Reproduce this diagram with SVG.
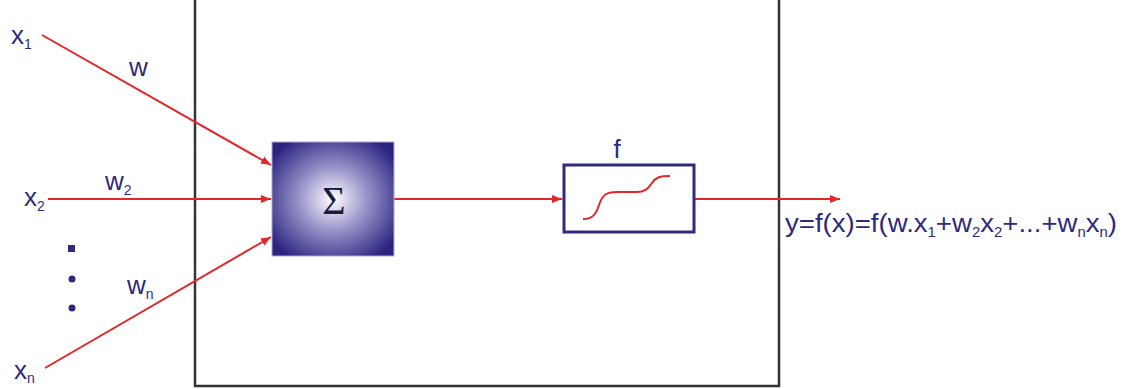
<svg xmlns="http://www.w3.org/2000/svg" width="1125" height="389" viewBox="0 0 1125 389">
<defs>
<radialGradient id="g" cx="0.5" cy="0.5" r="0.62">
<stop offset="0" stop-color="#ffffff"/>
<stop offset="0.45" stop-color="#9893c9"/>
<stop offset="1" stop-color="#2a2480"/>
</radialGradient>
<marker id="arr" viewBox="0 0 10 10" refX="10" refY="5" markerWidth="10" markerHeight="10" markerUnits="userSpaceOnUse" orient="auto">
<path d="M0,1 L10,5 L0,9 Z" fill="#e3262a"/>
</marker>
<style>
.lbl{font-family:"Liberation Sans",Arial,sans-serif;fill:#2e2a7e;font-size:26px}
.sub{font-size:14px}
.con{stroke:#e3262a;stroke-width:2;fill:none}
</style>
</defs>
<rect width="1125" height="389" fill="#ffffff"/>
<g id="frame">
<path d="M195,0 V386 H779 V0" fill="none" stroke="#333333" stroke-width="2.5"/>
</g>
<g id="connectors">
<line class="con" x1="42" y1="35" x2="271" y2="165" marker-end="url(#arr)"/>
<line class="con" x1="48" y1="199" x2="271" y2="199" marker-end="url(#arr)"/>
<line class="con" x1="45" y1="368" x2="271" y2="237" marker-end="url(#arr)"/>
<line class="con" x1="394" y1="199" x2="562" y2="199" marker-end="url(#arr)"/>
<line class="con" x1="694" y1="199" x2="840" y2="199" marker-end="url(#arr)"/>
</g>
<g id="sum">
<rect x="272" y="142" width="122" height="114" fill="url(#g)" stroke="#aaa8d0" stroke-width="1"/>
<text x="334" y="214" text-anchor="middle" font-family="Liberation Serif,serif" font-size="40" fill="#1a1a3a">Σ</text>
</g>
<g id="activation">
<text x="617" y="158" text-anchor="middle" class="lbl" font-size="22">f</text>
<rect x="564" y="165" width="130" height="67" fill="#ffffff" stroke="#2e2a7e" stroke-width="3"/>
<path d="M583,219 C593,219 596,214 599,205 C603,193 608,192 618,192 L637,192 C646,192 648,188 652,183 C656,177 660,176 670,176" class="con" stroke-width="2.5"/>
</g>
<g id="inputs">
<text class="lbl" x="11" y="44">x<tspan class="sub" dy="5">1</tspan></text>
<text class="lbl" x="24" y="206">x<tspan class="sub" dy="5">2</tspan></text>
<text class="lbl" x="14" y="379">x<tspan class="sub" dy="4">n</tspan></text>
<rect x="68" y="245" width="7" height="7" fill="#2e2a7e"/>
<circle cx="72" cy="279" r="3.5" fill="#2e2a7e"/>
<circle cx="72" cy="308" r="3.5" fill="#2e2a7e"/>
</g>
<g id="weights">
<text class="lbl" x="129" y="76" font-size="22">w</text>
<text class="lbl" x="105" y="190" font-size="22">w<tspan class="sub" dy="5">2</tspan></text>
<text class="lbl" x="127" y="294" font-size="22">w<tspan class="sub" dy="5">n</tspan></text>
</g>
<g id="output">
<text class="lbl" x="785" y="232" font-size="22" textLength="332" lengthAdjust="spacingAndGlyphs">y=f(x)=f(w.x<tspan class="sub" dy="5">1</tspan><tspan dy="-5">+w</tspan><tspan class="sub" dy="5">2</tspan><tspan dy="-5">x</tspan><tspan class="sub" dy="5">2</tspan><tspan dy="-5">+...+w</tspan><tspan class="sub" dy="5">n</tspan><tspan dy="-5">x</tspan><tspan class="sub" dy="5">n</tspan><tspan dy="-5">)</tspan></text>
</g>
</svg>
